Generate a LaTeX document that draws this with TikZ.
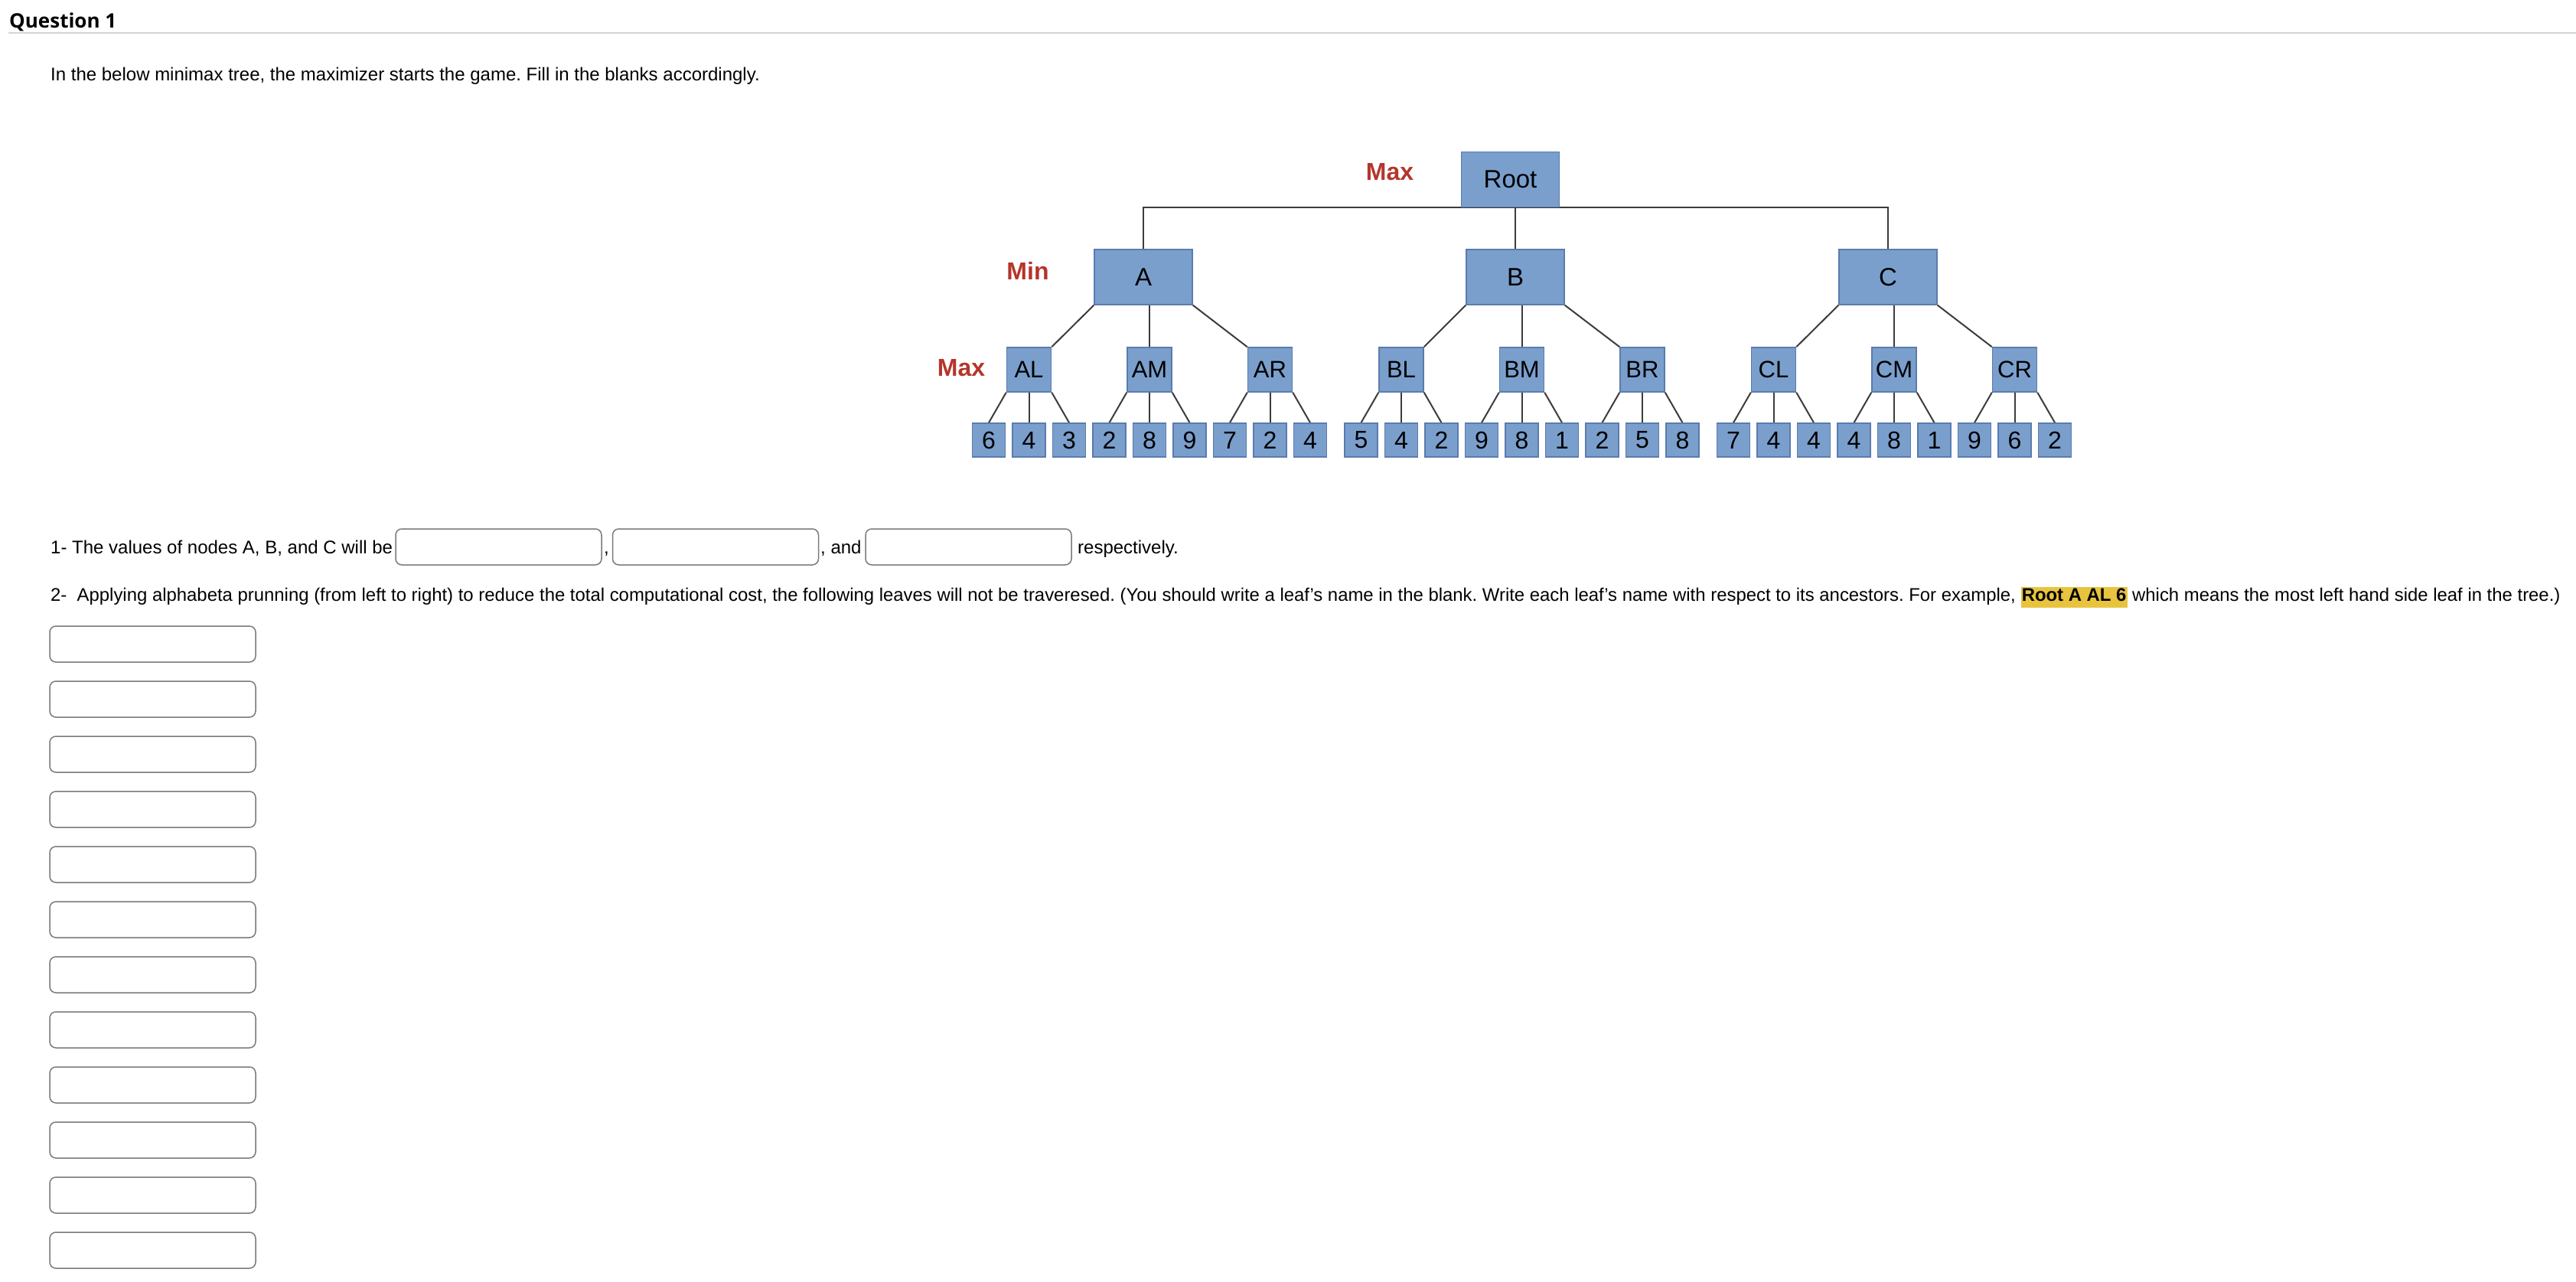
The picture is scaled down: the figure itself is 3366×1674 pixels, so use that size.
\documentclass[tikz,border=0pt]{standalone}
\usepackage{fontspec}
\setmainfont{Liberation Sans}
\newfontfamily\headfont{Open Sans}
\usetikzlibrary{backgrounds}
\definecolor{boxfill}{HTML}{7A9FCD}
\definecolor{boxedge}{HTML}{5A7BAE}
\definecolor{lblred}{HTML}{B5352B}
\definecolor{edgegray}{HTML}{3C3C3C}
\definecolor{rulegray}{HTML}{D4D4D4}
\definecolor{inputgray}{HTML}{7A7A7A}
\definecolor{hl}{HTML}{E8C33E}
\frenchspacing
\begin{document}
\begin{tikzpicture}[x=1pt,y=-1pt,
  tbox/.style={draw=boxedge, fill=boxfill, line width=1.5pt, inner sep=0pt, text=black},
  lvlone/.style={tbox, minimum width=128pt, minimum height=72pt, font=\fontsize{33}{33}\selectfont},
  lvltwo/.style={tbox, minimum width=58pt, minimum height=58pt, font=\fontsize{31}{31}\selectfont},
  leafbox/.style={tbox, minimum width=43pt, minimum height=44pt, font=\fontsize{32}{32}\selectfont},
  edge/.style={draw=edgegray, line width=2pt},
  lbl/.style={text=lblred, font=\fontsize{32}{32}\selectfont\bfseries, inner sep=0pt},
  body/.style={font=\fontsize{24}{28}\selectfont, inner sep=0pt, anchor=base west},
  inbox/.style={draw=inputgray, line width=1.5pt, rounded corners=8pt, minimum width=269pt, minimum height=47pt, inner sep=0pt},
]
\useasboundingbox (0,0) rectangle (3366,1674);

% heading
\node[anchor=base west, inner sep=0pt, font=\headfont\fontsize{26}{30}\selectfont\bfseries] (qtitle) at (12,36) {Question 1};
\draw[rulegray, line width=2pt] (11,43) -- (3366,43);
\node[body] (intro) at (66,105.5) {In the below minimax tree, the maximizer starts the game. Fill in the blanks accordingly.};

% tree
\node[lvlone] (Root) at (1973.5,234.5) {Root};
\node[lvlone] (A) at (1494,362) {A};
\node[lvlone] (B) at (1980,362) {B};
\node[lvlone] (C) at (2467,362) {C};

\node[lvltwo] (AL) at (1344.5,483) {AL};
\node[lvltwo] (AM) at (1502,483) {AM};
\node[lvltwo] (AR) at (1659.5,483) {AR};
\node[lvltwo] (BL) at (1831,483) {BL};
\node[lvltwo] (BM) at (1988.5,483) {BM};
\node[lvltwo] (BR) at (2146,483) {BR};
\node[lvltwo] (CL) at (2317.5,483) {CL};
\node[lvltwo] (CM) at (2475,483) {CM};
\node[lvltwo] (CR) at (2632.5,483) {CR};

\foreach \v [count=\i from 0] in {6,4,3,2,8,9,7,2,4}
  \node[leafbox] (L0\i) at ({1292+52.5*\i},575) {\v};
\foreach \v [count=\i from 0] in {5,4,2,9,8,1,2,5,8}
  \node[leafbox] (L1\i) at ({1778.5+52.5*\i},575) {\v};
\foreach \v [count=\i from 0] in {7,4,4,4,8,1,9,6,2}
  \node[leafbox] (L2\i) at ({2265+52.5*\i},575) {\v};

\node[lbl] (maxtop) at (1816,225) {Max};
\node[lbl] (minlbl) at (1343,354) {Min};
\node[lbl] (maxmid) at (1256,481) {Max};

\begin{scope}[on background layer]
  \draw[edge] (A.north) |- (Root.south) -| (C.north);
  \draw[edge] (Root.south -| B.north) -- (B.north);
  \foreach \p in {A,B,C} {
    \draw[edge] (\p.south west) -- (\p L.north east);
    \draw[edge] (\p.south -| \p M.north) -- (\p M.north);
    \draw[edge] (\p.south east) -- (\p R.north west);
  }
  \foreach \p/\g in {A/0,B/1,C/2}
    \foreach \s/\a/\b/\c in {L/0/1/2,M/3/4/5,R/6/7/8} {
      \draw[edge] (\p\s.south west) -- (L\g\a.north);
      \draw[edge] (\p\s.south) -- (L\g\b.north);
      \draw[edge] (\p\s.south east) -- (L\g\c.north);
    }
\end{scope}

% question 1
\node[body] (qone) at (66,723.5) {1- The values of nodes A, B, and C will be};
\node[inbox] (in1) at (651.5,714.5) {};
\node[inbox] (in2) at (935,714.5) {};
\node[inbox] (in3) at (1265.5,714.5) {};
\node[body] (comma) at (789,723.5) {,};
\node[body] (andtxt) at (1072,723.5) {, and};
\node[body] (resp) at (1408,723.5) {respectively.};

% question 2
\node[body, font=\fontsize{23.9}{28}\selectfont] (qtwo) at (66,785.5) {2-~~Applying alphabeta prunning (from left to right) to reduce the total computational cost, the following leaves will not be traveresed. (You should write a leaf's name in the blank. Write each leaf's name with respect to its ancestors. For example, {\setlength\fboxsep{0pt}\colorbox{hl}{\rule[-8pt]{0pt}{27pt}\hspace{1pt}\bfseries Root A AL 6\hspace{1pt}}} which means the most left hand side leaf in the tree.)};

\foreach \k in {0,...,11}
  \node[inbox] (blank\k) at (199.5,{841.5+72*\k}) {};
\end{tikzpicture}
\end{document}
